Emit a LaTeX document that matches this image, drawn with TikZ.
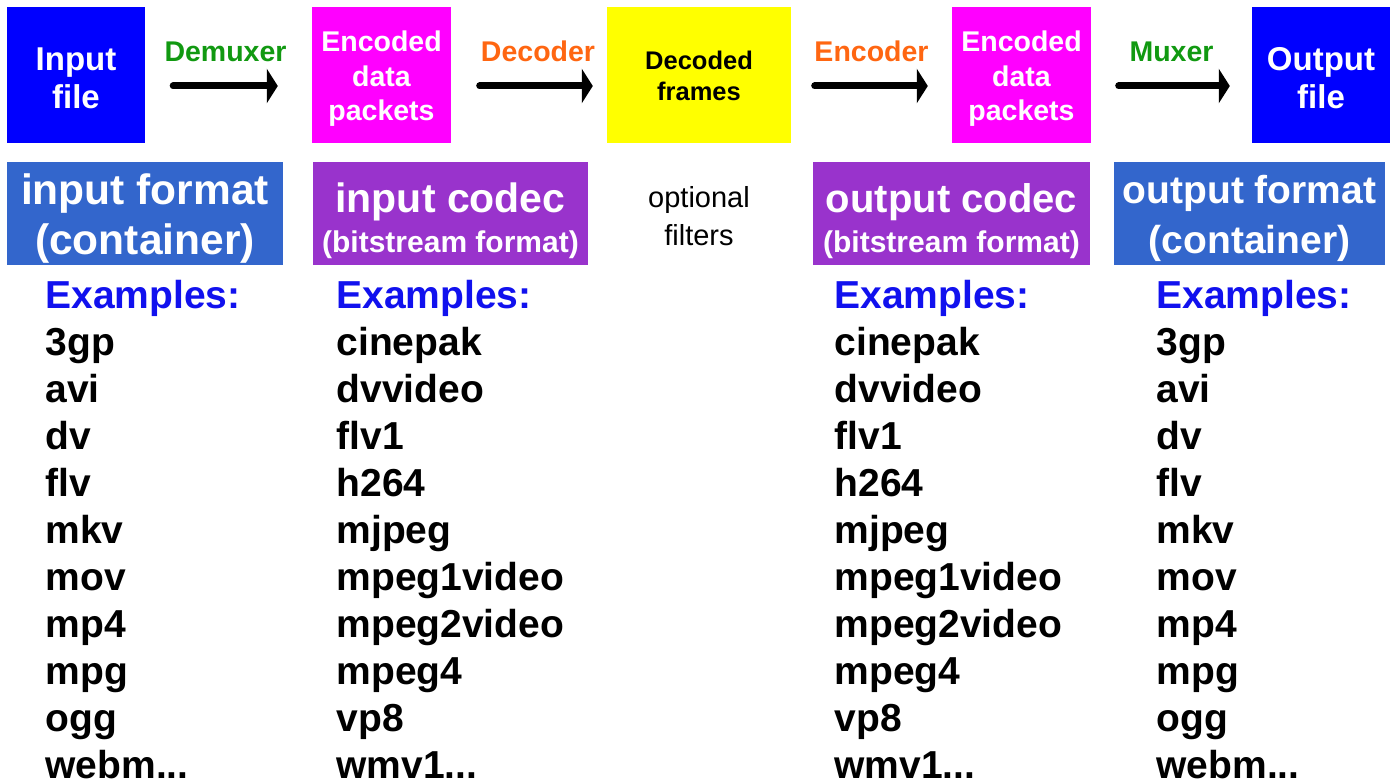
\documentclass[tikz,border=0pt]{standalone}
\usepackage{fontspec}
\setmainfont{Liberation Sans}
\usetikzlibrary{arrows.meta,positioning}
\definecolor{fileblue}{HTML}{0000FF}
\definecolor{pktmag}{HTML}{FF00FF}
\definecolor{frameyel}{HTML}{FFFF00}
\definecolor{fmtblue}{HTML}{3366CC}
\definecolor{codecpur}{HTML}{9933CC}
\definecolor{muxgreen}{HTML}{119911}
\definecolor{codorange}{HTML}{FF6611}
\definecolor{exblue}{HTML}{1111EE}
\newcommand{\fsz}[2]{\fontsize{#1}{#2}\selectfont}
\newcommand{\etc}{...}
\newcommand{\up}[1]{\rule{0pt}{#1}}

\begin{document}
\begin{tikzpicture}[x=1pt,y=-1pt,
    blk/.style={rectangle,inner sep=0pt,align=center,font=\bfseries},
    flowarrow/.style={line width=7pt,line cap=round,-{Triangle[length=11pt,width=34pt]}},
    actlbl/.style={midway,anchor=base,yshift=24pt,font=\bfseries\fsz{28.5}{30}},
    ex/.style={anchor=base west,font=\bfseries\fsz{39}{40}}]
  \useasboundingbox (0,0) rectangle (1393,784);

  % top row
  \node[blk,fill=fileblue,text=white,minimum width=138pt,minimum height=136pt,font=\bfseries\fsz{33}{38}] (infile) at (76,75) {\up{29pt}Input\\file};
  \node[blk,fill=pktmag,text=white,minimum width=139pt,minimum height=136pt,font=\bfseries\fsz{28.5}{34.5}] (pkt1) at (381.5,75) {\up{28pt}Encoded\\data\\packets};
  \node[blk,fill=frameyel,minimum width=184pt,minimum height=136pt,font=\bfseries\fsz{25.5}{31}] (frames) at (699,75) {\up{21pt}Decoded\\frames};
  \node[blk,fill=pktmag,text=white,minimum width=139pt,minimum height=136pt,font=\bfseries\fsz{28.5}{34.5}] (pkt2) at (1021.5,75) {\up{28pt}Encoded\\data\\packets};
  \node[blk,fill=fileblue,text=white,minimum width=138pt,minimum height=136pt,font=\bfseries\fsz{33}{38}] (outfile) at (1321,75) {\up{29pt}Output\\file};

  \draw[flowarrow,shorten <=28pt,shorten >=34pt] ([yshift=-11pt]infile.east) -- ([yshift=-11pt]pkt1.west)
    node[actlbl,text=muxgreen,xshift=-3pt] (demux) {Demuxer};
  \draw[flowarrow,shorten <=28.5pt,shorten >=14pt] ([yshift=-11pt]pkt1.east) -- ([yshift=-11pt]frames.west)
    node[actlbl,text=codorange,xshift=9pt] (dec) {Decoder};
  \draw[flowarrow,shorten <=23.5pt,shorten >=24pt] ([yshift=-11pt]frames.east) -- ([yshift=-11pt]pkt2.west)
    node[actlbl,text=codorange] (enc) {Encoder};
  \draw[flowarrow,shorten <=27.5pt,shorten >=22pt] ([yshift=-11pt]pkt2.east) -- ([yshift=-11pt]outfile.west)
    node[actlbl,text=muxgreen] (mux) {Muxer};

  % second row
  \node[blk,fill=fmtblue,text=white,minimum width=276pt,minimum height=103pt,font=\bfseries\fsz{42.5}{50}] (infmt) at (145,213.5)
    {\up{40pt}input format\\(container)};
  \node[blk,fill=codecpur,text=white,minimum width=275pt,minimum height=103pt,font=\bfseries\fsz{41}{47}] (incodec) at (450.5,213.5)
    {\up{45pt}input codec\\[-7pt]\fsz{30}{40}(bitstream format)};
  \node[align=center,font=\fsz{29}{38}] (filt) at (699,216) {optional\\filters};
  \node[blk,fill=codecpur,text=white,minimum width=277pt,minimum height=103pt,font=\bfseries\fsz{40}{47}] (outcodec) at (951.5,213.5)
    {\up{45pt}output codec\\[-7pt]\fsz{30}{40}(bitstream format)};
  \node[blk,fill=fmtblue,text=white,minimum width=271pt,minimum height=103pt,font=\bfseries\fsz{39}{50}] (outfmt) at (1249.5,213.5)
    {\up{38pt}output format\\(container)};

  % example lists
  \foreach \cx/\col in {42/fin,1153/fout} {
    \node[ex,text=exblue] (\col0) at (\cx,308) {Examples:};
    \foreach \name [count=\i] in {3gp,avi,dv,flv,mkv,mov,mp4,mpg,ogg,webm\etc}
      \node[ex] (\col\i) at (\cx,308+47*\i) {\name};
  }
  \foreach \cx/\col in {333/cin,831/cout} {
    \node[ex,text=exblue] (\col0) at (\cx,308) {Examples:};
    \foreach \name [count=\i] in {cinepak,dvvideo,flv1,h264,mjpeg,mpeg1video,mpeg2video,mpeg4,vp8,wmv1\etc}
      \node[ex] (\col\i) at (\cx,308+47*\i) {\name};
  }
\end{tikzpicture}
\end{document}
